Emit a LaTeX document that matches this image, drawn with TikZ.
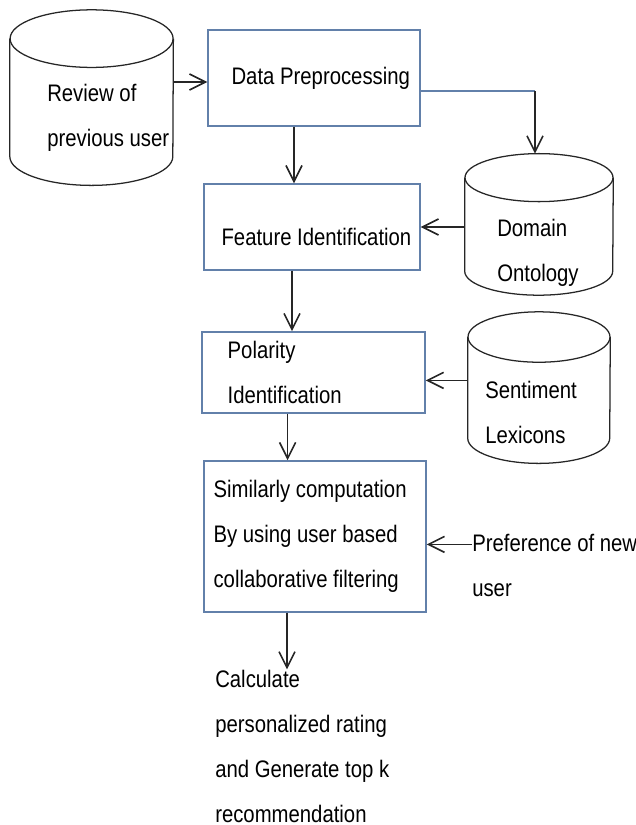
\documentclass[tikz,border=0pt]{standalone}
\usepackage{fontspec}
\setmainfont{Liberation Sans}[FakeStretch=0.85]
\usetikzlibrary{arrows.meta}
\definecolor{boxblue}{RGB}{98,128,170}
\newcommand{\flowfont}{\fontsize{17}{32}\selectfont}

\begin{document}
\begin{tikzpicture}[
    box/.style={draw=boxblue, line width=1pt, inner sep=0pt},
    dbnode/.style={inner sep=0pt},
    dbline/.style={draw=black!85, line width=0.9pt},
    txt/.style={align=left, inner sep=0pt, font=\flowfont},
    arr/.style={draw=black!85, line width=1.15pt, -{Straight Barb[length=4mm,width=4mm]}}
]
    \useasboundingbox (0,0) rectangle (15.9,-20.625);

    % Data stores
    \node[dbnode, minimum width=4.075cm, minimum height=4.375cm] (review) at (2.29,-2.44) {};
    \node[dbnode, minimum width=3.7cm, minimum height=3.525cm] (onto) at (13.475,-5.61) {};
    \node[dbnode, minimum width=3.55cm, minimum height=3.775cm] (lex) at (13.475,-9.69) {};
    \foreach \n/\rx/\ry in {review/2.0375/0.72, onto/1.85/0.6, lex/1.775/0.63} {
        \draw[dbline] ([yshift=-\ry cm]\n.north) ellipse[x radius=\rx cm, y radius=\ry cm];
        \draw[dbline] ([yshift=-\ry cm]\n.north west) -- ([yshift=\ry cm]\n.south west)
            arc[start angle=180, end angle=360, x radius=\rx cm, y radius=\ry cm]
            -- ([yshift=-\ry cm]\n.north east);
    }
    \node[txt, anchor=west] (reviewtxt) at (1.175,-2.95) {Review of\\previous user};
    \node[txt, anchor=west] (ontotxt) at (12.425,-6.31) {Domain\\Ontology};
    \node[txt, anchor=west] (lextxt) at (12.125,-10.31) {Sentiment\\Lexicons};

    % Processing steps
    \node[box, minimum width=5.3cm, minimum height=2.4cm] (prep) at (7.85,-1.95) {};
    \node[box, minimum width=5.4cm, minimum height=2.15cm] (feat) at (7.8,-5.675) {};
    \node[box, minimum width=5.575cm, minimum height=2.025cm] (pol) at (7.84,-9.31) {};
    \node[box, minimum width=5.55cm, minimum height=3.775cm] (sim) at (7.875,-13.41) {};
    \node[txt, anchor=west] (preptxt) at ([xshift=6mm]prep.west) {Data Preprocessing};
    \node[txt, anchor=west] (feattxt) at ([xshift=4.5mm,yshift=-2.5mm]feat.west) {Feature Identification};
    \node[txt, anchor=west] (poltxt) at ([xshift=6.5mm]pol.west) {Polarity\\Identification};
    \node[txt, anchor=west] (simtxt) at ([xshift=2.5mm]sim.west) {Similarly computation\\By using user based\\collaborative filtering};

    % Inputs and result
    \node[txt, anchor=west] (pref) at (11.8,-14.14) {Preference of new\\user};
    \node[txt, anchor=west] (calc) at (5.375,-18.65) {Calculate\\personalized rating\\and Generate top k\\recommendation};

    % Connectors
    \draw[arr] ([yshift=-1mm]prep.west -| review.east) -- ([yshift=-1mm]prep.west);
    \draw[arr] ([xshift=-5mm]prep.south) -- ([xshift=-5mm]prep.south |- feat.north);
    \coordinate (bend) at ([yshift=-3.3mm,xshift=-1mm]prep.east -| onto.north);
    \draw[boxblue, line width=1.1pt] ([yshift=-3.3mm]prep.east) -- (bend);
    \draw[arr] (bend) -- ([xshift=-1mm]onto.north);
    \draw[arr] (onto.west |- feat.east) -- (feat.east);
    \draw[arr] ([xshift=-5mm]feat.south) -- ([xshift=-5mm]feat.south |- pol.north);
    \draw[arr] ([yshift=-2mm]pol.east -| lex.west) -- ([yshift=-2mm]pol.east);
    \draw[arr] ([xshift=-6.5mm]pol.south) -- ([xshift=-6.5mm]pol.south |- sim.north);
    \draw[arr] ([yshift=-2mm]sim.east -| pref.west) -- ([yshift=-2mm]sim.east);
    \draw[arr] ([xshift=-7mm]sim.south) -- ([xshift=-7mm]sim.south |- calc.north);
\end{tikzpicture}
\end{document}
